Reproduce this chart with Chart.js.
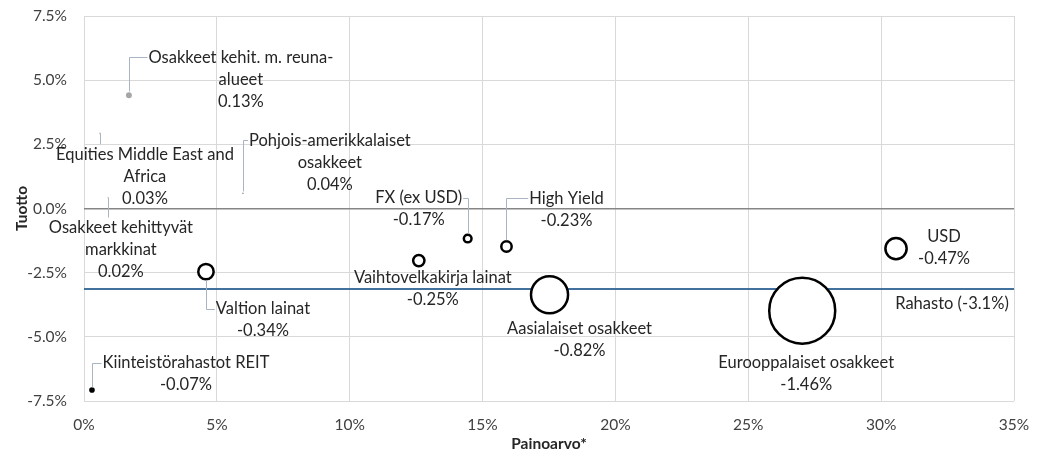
<!DOCTYPE html>
<html>
<head>
<meta charset="utf-8">
<script src="https://cdn.jsdelivr.net/npm/chart.js@4"></script>
<style>
  html, body { margin: 0; padding: 0; background: #fff; }
</style>
</head>
<body>
<canvas id="chart" width="1042" height="461"></canvas>
<script>
// asset classes, weight (x), return (y), contribution to fund return (bubble size)
const categories = [
  'Osakkeet kehit. m. reuna-\nalueet',
  'Equities Middle East and\nAfrica',
  'Pohjois-amerikkalaiset\nosakkeet',
  'Osakkeet kehittyvät\nmarkkinat',
  'Valtion lainat',
  'Kiinteistörahastot REIT',
  'FX (ex USD)',
  'High Yield',
  'Vaihtovelkakirja lainat',
  'Aasialaiset osakkeet',
  'Eurooppalaiset osakkeet',
  'USD'
];
const weights = [1.69, 0.6, 5.98, 0.9, 4.59, 0.3, 14.44, 15.9, 12.6, 17.52, 27.03, 30.56];
const returns = [4.41, 2.93, 0.59, 0.43, -2.46, -7.07, -1.17, -1.48, -2.03, -3.36, -3.98, -1.56];
const contributions = [0.13, 0.03, 0.04, 0.02, -0.34, -0.07, -0.17, -0.23, -0.25, -0.82, -1.46, -0.47];
const fundReturn = -3.14;
const fundLabel = 'Rahasto (-3.1%)';

// label placement: offset (px) from bubble centre to the first text line, leader style
const labelPlacement = [
  [112, -38, 'L'], [45, 21, 'V'], [87, -53, 'L'], [13, 30, 'V'],
  [57, 37, 'L'], [94, -27, 'L'], [-49, -41, 'R'], [60, -48, 'L'],
  [14, 17, ''], [30, 34, ''], [4, 52, ''], [48, -12, '']
];

const FONT = '16.5px Lato';
const TEXT = '#262626';
const LEADER = '#a9b4c2';
const GRID = '#d9d9d9';
const SIZE_PX = 22.6; // radius px per 1% contribution

const bubbles = weights.map((w, i) => ({
  x: w, y: returns[i], r: Math.abs(contributions[i]) * SIZE_PX
}));

const labelPlugin = {
  id: 'bubbleLabels',
  afterDatasetsDraw(chart) {
    const ctx = chart.ctx;
    const meta = chart.getDatasetMeta(1);
    const area = chart.chartArea;
    ctx.save();
    ctx.font = FONT;
    ctx.fillStyle = TEXT;
    ctx.textAlign = 'center';
    ctx.textBaseline = 'middle';
    ctx.strokeStyle = LEADER;
    ctx.lineWidth = 1;
    meta.data.forEach((pt, i) => {
      const [dx, dy, side] = labelPlacement[i];
      const lines = categories[i].split('\n');
      lines.push(contributions[i].toFixed(2) + '%');
      const lx = pt.x + dx, ly = pt.y + dy;
      const w = ctx.measureText(lines[0]).width;
      const px = Math.round(pt.x) + 0.5;
      const r = bubbles[i].r + 1;
      if (side === 'L' || side === 'R') {
        const sy = Math.round(ly) + 0.5;
        const ex = side === 'L' ? lx - w / 2 - 1 : lx + w / 2 + 1;
        ctx.beginPath();
        ctx.moveTo(px, pt.y + (ly < pt.y ? -r : r));
        ctx.lineTo(px, sy);
        ctx.lineTo(ex, sy);
        ctx.stroke();
      } else if (side === 'V') {
        ctx.beginPath();
        ctx.moveTo(px, pt.y);
        ctx.lineTo(px, ly - Math.sign(dy) * 10);
        ctx.stroke();
      }
      lines.forEach((t, k) => ctx.fillText(t, lx, ly + k * 22));
    });
    const yPix = chart.scales.y.getPixelForValue(fundReturn);
    ctx.fillText(fundLabel, area.right - 62, yPix + 15);
    ctx.restore();
  }
};

new Chart(document.getElementById('chart'), {
  type: 'bubble',
  data: {
    datasets: [{
      type: 'line',
      data: [{x: 0, y: fundReturn}, {x: 35, y: fundReturn}],
      borderColor: '#41719c',
      borderWidth: 2,
      pointRadius: 0,
      order: 2
    }, {
      type: 'bubble',
      data: bubbles,
      backgroundColor: (c) => contributions[c.dataIndex] > 0 ? '#a6a6a6' : (c.dataIndex === 5 ? '#000' : '#fff'),
      borderColor: (c) => contributions[c.dataIndex] > 0 ? '#a6a6a6' : '#000',
      borderWidth: (c) => contributions[c.dataIndex] > 0 ? 0 : 2.5,
      order: 1
    }]
  },
  options: {
    responsive: false,
    animation: false,
    layout: { autoPadding: false, padding: { top: 16, right: 28, left: 0, bottom: 0 } },
    plugins: { legend: { display: false }, tooltip: { enabled: false } },
    scales: {
      x: {
        type: 'linear', min: 0, max: 35,
        afterFit: (s) => { s.height = 60; s.paddingLeft = 0; s.paddingRight = 0; },
        border: { display: false },
        grid: { color: GRID, drawTicks: false },
        ticks: { stepSize: 5, padding: 15, color: '#404040', font: { family: 'Lato', size: 15.5 },
                 callback: (v) => v + '%' },
        title: { display: true, text: 'Painoarvo*', color: '#262626', padding: { top: 0, bottom: 8 },
                 font: { family: 'Lato', size: 15.5, weight: 'bold' } }
      },
      y: {
        min: -7.5, max: 7.5,
        afterFit: (s) => { s.width = 84; s.paddingTop = 0; s.paddingBottom = 0; },
        border: { display: false },
        grid: {
          drawTicks: false,
          color: (c) => c.tick && c.tick.value === 0 ? '#868686' : GRID,
          lineWidth: (c) => c.tick && c.tick.value === 0 ? 1.5 : 1
        },
        ticks: { stepSize: 2.5, padding: 17, color: '#404040', font: { family: 'Lato', size: 15.5 },
                 callback: (v) => v.toFixed(1) + '%' },
        title: { display: true, text: 'Tuotto', color: '#262626', padding: { top: 13, bottom: 0 },
                 font: { family: 'Lato', size: 15.5, weight: 'bold' } }
      }
    }
  },
  plugins: [labelPlugin]
});
</script>
</body>
</html>
